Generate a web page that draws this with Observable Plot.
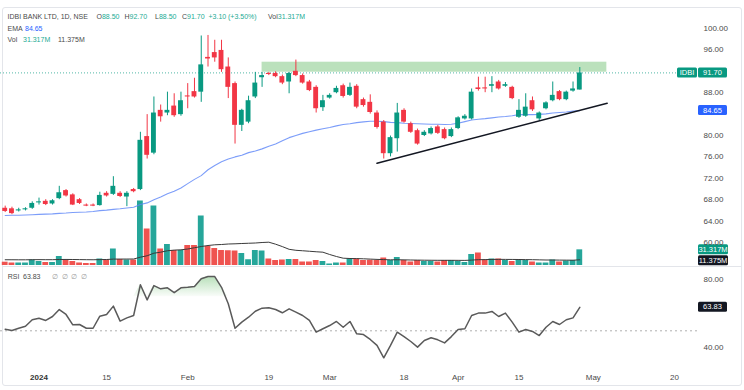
<!DOCTYPE html>
<html>
<head>
<meta charset="utf-8">
<script src="https://cdn.jsdelivr.net/npm/d3@7"></script>
<script src="https://cdn.jsdelivr.net/npm/@observablehq/plot@0.6"></script>
<style>
  body { margin: 0; background: #fff; }
  #wrap { position: relative; width: 744px; height: 390px; overflow: hidden; background: #fff; font-family: "Liberation Sans", Arial, sans-serif; }
  #wrap svg { position: absolute; left: 0; }
  .frame { position: absolute; left: 2px; top: 7px; width: 738px; height: 377px; border: 1px solid #e3e5ea; border-radius: 3px; }
  .sep { position: absolute; left: 3px; top: 266px; width: 738px; height: 1px; background: #e3e5ea; }
  .t { position: absolute; white-space: nowrap; font-size: 7px; line-height: 8px; color: #4a4a4a; z-index: 5; }
  .g { color: #22ab94; }
  .b { color: #2962ff; }
  .n { color: #9a9a9a; }
</style>
</head>
<body>
<div id="wrap">
  <div class="frame"></div>
</div>
<script>
// ---------------- data ----------------
const opens  = [66.4,66.3,65.9,66.1,66.4,67.4,67.7,67.2,68.2,69.7,68.9,68.0,67.0,67.0,66.9,69.2,69.0,69.2,68.5,69.9,
                69.9,79.8,76.7,84.7,84.2,85.5,83.9,87.4,88.2,88.1,94.6,95.5,95.9,92.8,89.7,81.9,82.5,87.2,90.8,91.6,
                91.6,91.0,90.0,92.0,91.2,90.0,89.0,85.2,87.0,88.0,89.3,87.5,89.2,86.7,86.2,84.2,82.5,76.6,79.4,84.7,
                82.2,80.9,80.0,80.3,81.6,81.1,79.8,81.3,83.1,83.1,88.9,88.9,89.2,90.0,89.2,89.0,83.4,83.6,86.5,83.1,
                85.0,86.5,88.2,86.7,88.3,88.5];
const highs  = [66.8,66.6,66.4,66.5,67.6,68.3,68.0,68.0,70.5,69.9,69.1,68.2,67.2,67.2,69.4,69.5,72.3,69.5,69.5,70.1,
                80.6,83.9,87.2,85.7,88.1,87.8,88.1,89.7,90.7,98.6,98.7,97.8,97.8,94.5,90.0,84.9,87.35,91.8,91.8,91.8,
                91.9,91.3,91.8,94.1,91.5,90.3,89.3,87.5,87.8,89.2,89.6,89.8,89.5,87.0,87.6,84.6,82.8,79.9,86.0,85.0,
                82.5,81.2,80.9,81.6,81.9,81.4,81.4,83.5,83.9,88.7,90.9,90.9,91.0,90.3,89.9,89.2,86.7,87.8,87.2,84.4,
                86.3,90.0,88.4,88.3,90.0,92.7];
const lows   = [65.6,65.2,65.7,65.9,66.2,67.0,66.9,67.0,68.0,68.5,66.9,67.1,66.7,66.7,66.8,68.5,68.8,68.4,66.7,69.3,
                69.7,75.6,76.4,82.5,83.7,83.4,83.6,85.0,87.0,86.2,92.8,93.7,91.8,86.9,78.4,80.75,82.2,86.9,89.0,91.2,
                90.8,89.5,87.8,91.0,89.6,88.2,84.2,84.5,86.8,87.8,87.0,87.3,85.0,85.3,84.0,81.2,75.6,76.0,76.9,82.3,
                80.4,78.2,79.8,80.1,80.2,79.2,79.6,81.1,82.9,82.9,88.3,88.0,88.0,88.5,89.0,86.7,83.2,83.4,84.5,82.7,
                84.8,86.3,86.5,86.5,88.1,88.5];
const closes = [65.8,65.4,66.1,66.3,67.3,67.6,67.1,67.8,69.3,68.7,67.0,67.3,66.8,66.8,68.8,68.7,70.5,68.6,69.2,69.5,
                79.1,76.3,84.2,83.5,84.7,83.7,86.5,87.2,87.2,93.2,94.3,94.5,92.3,89.0,81.9,84.7,86.5,89.8,91.2,91.4,
                91.0,89.8,91.6,91.2,89.8,88.4,85.0,86.5,87.5,88.8,87.3,89.0,85.3,85.6,84.3,81.5,76.6,79.6,84.2,82.5,
                80.6,78.4,80.6,81.3,80.4,79.4,81.1,83.3,83.6,88.1,88.6,88.7,89.5,88.7,89.5,86.9,84.7,85.3,84.8,84.2,
                86.1,87.5,86.7,88.1,88.7,91.7];
// volume in millions
const volumes = [6.6,5,5,5,11,8,6,6,18,11,8,5,4,4,13,11,33,12,11,11,
                 129,73,119,33,42,30,30,40,40,99,38,34,30,29.5,29,24,11.5,30,29,13,
                 10,11,12,12,7,7,10,8,3,5,5,13,13,10,10.5,10,15,10,16,10,
                 7,10,8,8,7,10,10,8,6,22,25,11,13,13,10,8,10,10,7,5,
                 5,11,7,9,10,31.317];
const volumeMA = [11.5,11.5,11.4,11.4,11.6,11.7,11.6,11.6,12.0,12.1,12.0,11.8,11.6,11.5,11.8,12.0,12.8,12.9,12.9,13.0,
                  16.6,19.5,24.6,26.6,29.5,30.8,31.4,33.0,35.5,38.0,40.0,41.4,42.0,43.0,43.4,44.0,44.5,45.0,46.0,46.6,
                  42.6,37.8,32.4,30.4,29.5,28.5,27.5,26.6,22.0,18.0,14.6,14.0,13.8,13.4,12.8,12.2,11.8,11.4,11.5,11.3,
                  11.0,10.8,10.6,10.5,10.4,10.4,10.4,10.3,10.2,10.8,11.6,11.8,12.1,12.3,12.2,12.1,12.0,11.8,11.6,11.3,
                  11.0,11.0,10.8,10.7,10.6,11.375];
const emaValues = [65.05,65.1,65.1,65.15,65.2,65.25,65.3,65.35,65.45,65.5,65.6,65.65,65.7,65.8,65.95,66.05,66.2,66.3,66.45,66.6,
                   67.1,67.4,68.0,68.5,69.1,69.6,70.2,71.0,71.8,72.5,73.6,74.4,75.1,75.6,76.0,76.3,76.8,77.1,77.5,78.0,
                   78.4,79.0,79.6,80.0,80.4,80.7,81.0,81.25,81.5,81.8,82.05,82.2,82.4,82.55,82.65,82.65,82.6,82.45,82.4,82.3,
                   82.25,82.2,82.15,82.1,82.1,82.05,82.1,82.3,82.6,82.9,83.05,83.15,83.3,83.45,83.55,83.7,83.9,83.9,83.9,83.95,
                   84.05,84.2,84.3,84.4,84.55,84.65];
const rsiValues = [50.9,50.2,51.5,52.7,56.5,57.4,56.1,58.4,62.5,59.6,53.5,53.7,51.5,51.5,58.6,59.6,64.5,55.7,57.6,59.0,
                   77.1,68.2,76.6,74.7,75.3,72.4,75.3,75.6,76.1,80.6,81.9,81.9,75.6,65.9,51.5,55.1,58.0,61.5,63.3,63.5,
                   62.5,60.6,62.9,61.0,59.0,56.1,49.2,51.2,53.1,55.5,52.1,55.5,48.2,47.8,44.9,41.4,34.1,41.4,49.2,46.6,
                   43.7,40.4,44.3,45.9,44.7,42.9,46.6,50.8,51.2,59.0,60.4,60.4,61.4,58.4,60.4,55.1,49.2,50.8,49.6,47.2,
                   52.1,55.5,53.7,56.5,57.6,63.83];
// x tick labels (bar index -> label)
const xTickIndex  = [5, 15, 27, 39, 48, 59, 67, 76, 87, 99];
const xTickLabels = ["2024", "15", "Feb", "19", "Mar", "18", "Apr", "15", "May", "20"];
// price-scale ticks (92 and 84 sit under the price tags, RSI 60 under the RSI tag)
const priceTicks = [60, 64, 68, 72, 76, 80, 88, 96, 100];
const rsiTicks = [40, 80];
// drawings
const zoneIndex = [38, 89];
const zonePrice = [91.83, 93.7];
const trendIndex = [55, 89.05];
const trendPrice = [74.82, 86.04];

// ---------------- build ----------------
const FONT = "Liberation Sans, Arial, sans-serif";
const UP = "#089981", DOWN = "#f23645";
const VUP = "#26a69a", VDOWN = "#ef5350";
const wrap = document.getElementById("wrap");
const NS = "http://www.w3.org/2000/svg";
function el(tag, attrs, text) {
  const e = document.createElementNS(NS, tag);
  for (const k in attrs) e.setAttribute(k, attrs[k]);
  if (text != null) e.textContent = text;
  return e;
}

const candles = opens.map((o, i) => ({
  i, open: o, high: highs[i], low: lows[i], close: closes[i],
  vol: volumes[i], vma: volumeMA[i], ema: emaValues[i], rsi: rsiValues[i]
}));
const up = candles.filter(d => d.close >= d.open);
const down = candles.filter(d => d.close < d.open);
const last = candles[candles.length - 1];
const xTicks = xTickIndex.map((i, k) => ({i, label: xTickLabels[k]}));
const zone = [{x1: zoneIndex[0], x2: zoneIndex[1], y1: zonePrice[0], y2: zonePrice[1]}];
const trend = trendIndex.map((i, k) => ({i, p: trendPrice[k]}));

const xScale = {domain: [0, candles.length - 1], range: [4.7, 579.3], axis: null};
const common = {width: 744, marginLeft: 0, marginRight: 47, marginTop: 0,
  style: {background: "transparent", overflow: "visible", fontFamily: FONT, fontSize: "8px", color: "#4a4a4a"}};

// price tag function mark
function tagMark(list) {
  return (index, scales, values, dim) => {
    const g = el("g", {"font-family": FONT, "font-size": 7.5});
    const x0 = dim.width - dim.marginRight + 1;
    let prevBottom = -Infinity;
    for (const t of list) {
      let cy = scales.y(t.value);
      if (cy - 5 < prevBottom + 1) cy = prevBottom + 6;
      prevBottom = cy + 5;
      const w = t.w || 29;
      g.append(el("rect", {x: x0, y: cy - 5, width: w, height: 10, rx: 1.5, fill: t.fill}));
      g.append(el("text", {x: x0 + w / 2, y: cy + 0.5, "text-anchor": "middle", "dominant-baseline": "middle", fill: "#fff"}, t.label));
      if (t.prefix) {
        g.append(el("rect", {x: x0 - 21, y: cy - 5, width: 20, height: 10, rx: 1.5, fill: t.fill}));
        g.append(el("text", {x: x0 - 11, y: cy + 0.5, "text-anchor": "middle", "dominant-baseline": "middle", fill: "#fff"}, t.prefix));
      }
    }
    return g;
  };
}

// volume pane (beneath price)
const volPlot = Plot.plot({
  ...common, height: 266, marginBottom: 0,
  x: xScale,
  y: {domain: [0, 130], range: [265, 200], axis: null},
  marks: [
    Plot.rect(up, {x1: d => d.i - 0.43, x2: d => d.i + 0.43, y1: () => 0, y2: "vol", fill: VUP}),
    Plot.rect(down, {x1: d => d.i - 0.43, x2: d => d.i + 0.43, y1: () => 0, y2: "vol", fill: VDOWN}),
    Plot.line(candles, {x: "i", y: "vma", stroke: "#3a3a3a", strokeWidth: 1}),
    tagMark([
      {value: last.vol, label: "31.317M", fill: "#089981", w: 30},
      {value: last.vma, label: "11.375M", fill: "#131722", w: 30}
    ])
  ]
});
volPlot.style.top = "0px";
wrap.append(volPlot);

// price pane
const pricePlot = Plot.plot({
  ...common, height: 266, marginBottom: 0,
  x: xScale,
  y: {domain: [60, 100], range: [242, 28], label: null},
  marks: [
    Plot.rect(zone, {x1: "x1", x2: "x2", y1: "y1", y2: "y2", fill: "#4caf50", fillOpacity: 0.38}),
    Plot.ruleY([last.close], {stroke: UP, strokeOpacity: 0.7, strokeDasharray: "1,2"}),
    Plot.line(candles, {x: "i", y: "ema", stroke: "#5b84f7", strokeOpacity: 0.8, strokeWidth: 1.1}),
    Plot.ruleX(up, {x: "i", y1: "low", y2: "high", stroke: UP, strokeWidth: 1}),
    Plot.ruleX(down, {x: "i", y1: "low", y2: "high", stroke: DOWN, strokeWidth: 1}),
    Plot.rect(up, {x1: d => d.i - 0.36, x2: d => d.i + 0.36, y1: "open", y2: "close", fill: UP}),
    Plot.rect(down, {x1: d => d.i - 0.36, x2: d => d.i + 0.36, y1: "open", y2: "close", fill: DOWN}),
    Plot.line(trend, {x: "i", y: "p", stroke: "#131722", strokeWidth: 1.5}),
    Plot.axisY(priceTicks, {anchor: "right", tickSize: 0, tickPadding: 6, label: null,
      tickFormat: d => d.toFixed(2), fontSize: 8}),
    tagMark([
      {value: last.close, label: last.close.toFixed(2), fill: "#089981", prefix: "IDBI"},
      {value: last.ema, label: last.ema.toFixed(2), fill: "#2962ff"}
    ])
  ]
});
pricePlot.style.top = "0px";
wrap.append(pricePlot);

// RSI pane
const rsiPlot = Plot.plot({
  ...common, height: 124, marginBottom: 27,
  x: xScale,
  y: {domain: [40, 80], range: [81.3, 13.3], label: null},
  marks: [
    () => {
      const defs = el("defs", {});
      const lg = el("linearGradient", {id: "rsiGrad", x1: 0, y1: 0, x2: 0, y2: 1});
      lg.append(el("stop", {offset: "0%", "stop-color": "#4caf50", "stop-opacity": 0.4}));
      lg.append(el("stop", {offset: "100%", "stop-color": "#4caf50", "stop-opacity": 0.03}));
      defs.append(lg);
      return defs;
    },
    Plot.ruleY([50], {stroke: "#b0b0b0", strokeDasharray: "2,3"}),
    Plot.areaY(candles, {x: "i", y1: () => 70, y2: d => Math.max(d.rsi, 70), fill: "url(#rsiGrad)"}),
    Plot.line(candles, {x: "i", y: "rsi", stroke: "#5a5a5a", strokeWidth: 1.5}),
    Plot.axisY(rsiTicks, {anchor: "right", tickSize: 0, tickPadding: 6, label: null,
      tickFormat: d => d.toFixed(2), fontSize: 8}),
    Plot.text(xTicks.filter(d => d.label === "2024"), {x: "i", text: "label", frameAnchor: "bottom",
      lineAnchor: "middle", dy: 13.7, fontWeight: "bold", fontSize: 8, fill: "#333"}),
    Plot.text(xTicks.filter(d => d.label !== "2024"), {x: "i", text: "label", frameAnchor: "bottom",
      lineAnchor: "middle", dy: 13.7, fontSize: 8, fill: "#4a4a4a"}),
    tagMark([{value: last.rsi, label: last.rsi.toFixed(2), fill: "#131722"}])
  ]
});
rsiPlot.style.top = "266px";
wrap.append(rsiPlot);

const sep = document.createElement("div");
sep.className = "sep";
wrap.append(sep);

// legend texts (overlays)
function txt(left, top, html) {
  const d = document.createElement("div");
  d.className = "t";
  d.style.left = left + "px";
  d.style.top = top + "px";
  d.innerHTML = html;
  wrap.append(d);
}
txt(7.5, 13, "IDBI BANK LTD, 1D, NSE");
txt(96.5, 13, 'O<span class="g">88.50</span>');
txt(124.5, 13, 'H<span class="g">92.70</span>');
txt(155, 13, 'L<span class="g">88.50</span>');
txt(182, 13, 'C<span class="g">91.70</span>');
txt(208.5, 13, '<span class="g">+3.10</span>');
txt(228, 13, '<span class="g">(+3.50%)</span>');
txt(268, 13, 'Vol<span class="g">31.317M</span>');
txt(7.5, 25, "EMA");
txt(25, 25, '<span class="b">84.65</span>');
txt(7.5, 35.5, "Vol");
txt(23, 35.5, '<span class="g">31.317M</span>');
txt(58, 35.5, "11.375M");
txt(7.7, 272.7, "RSI");
txt(23, 272.7, "63.83");
txt(52, 272.7, '<span class="n">∅</span>');
txt(61.5, 272.7, '<span class="n">∅</span>');
txt(71, 272.7, '<span class="n">∅</span>');
txt(80.5, 272.7, '<span class="n">∅</span>');
</script>
</body>
</html>
